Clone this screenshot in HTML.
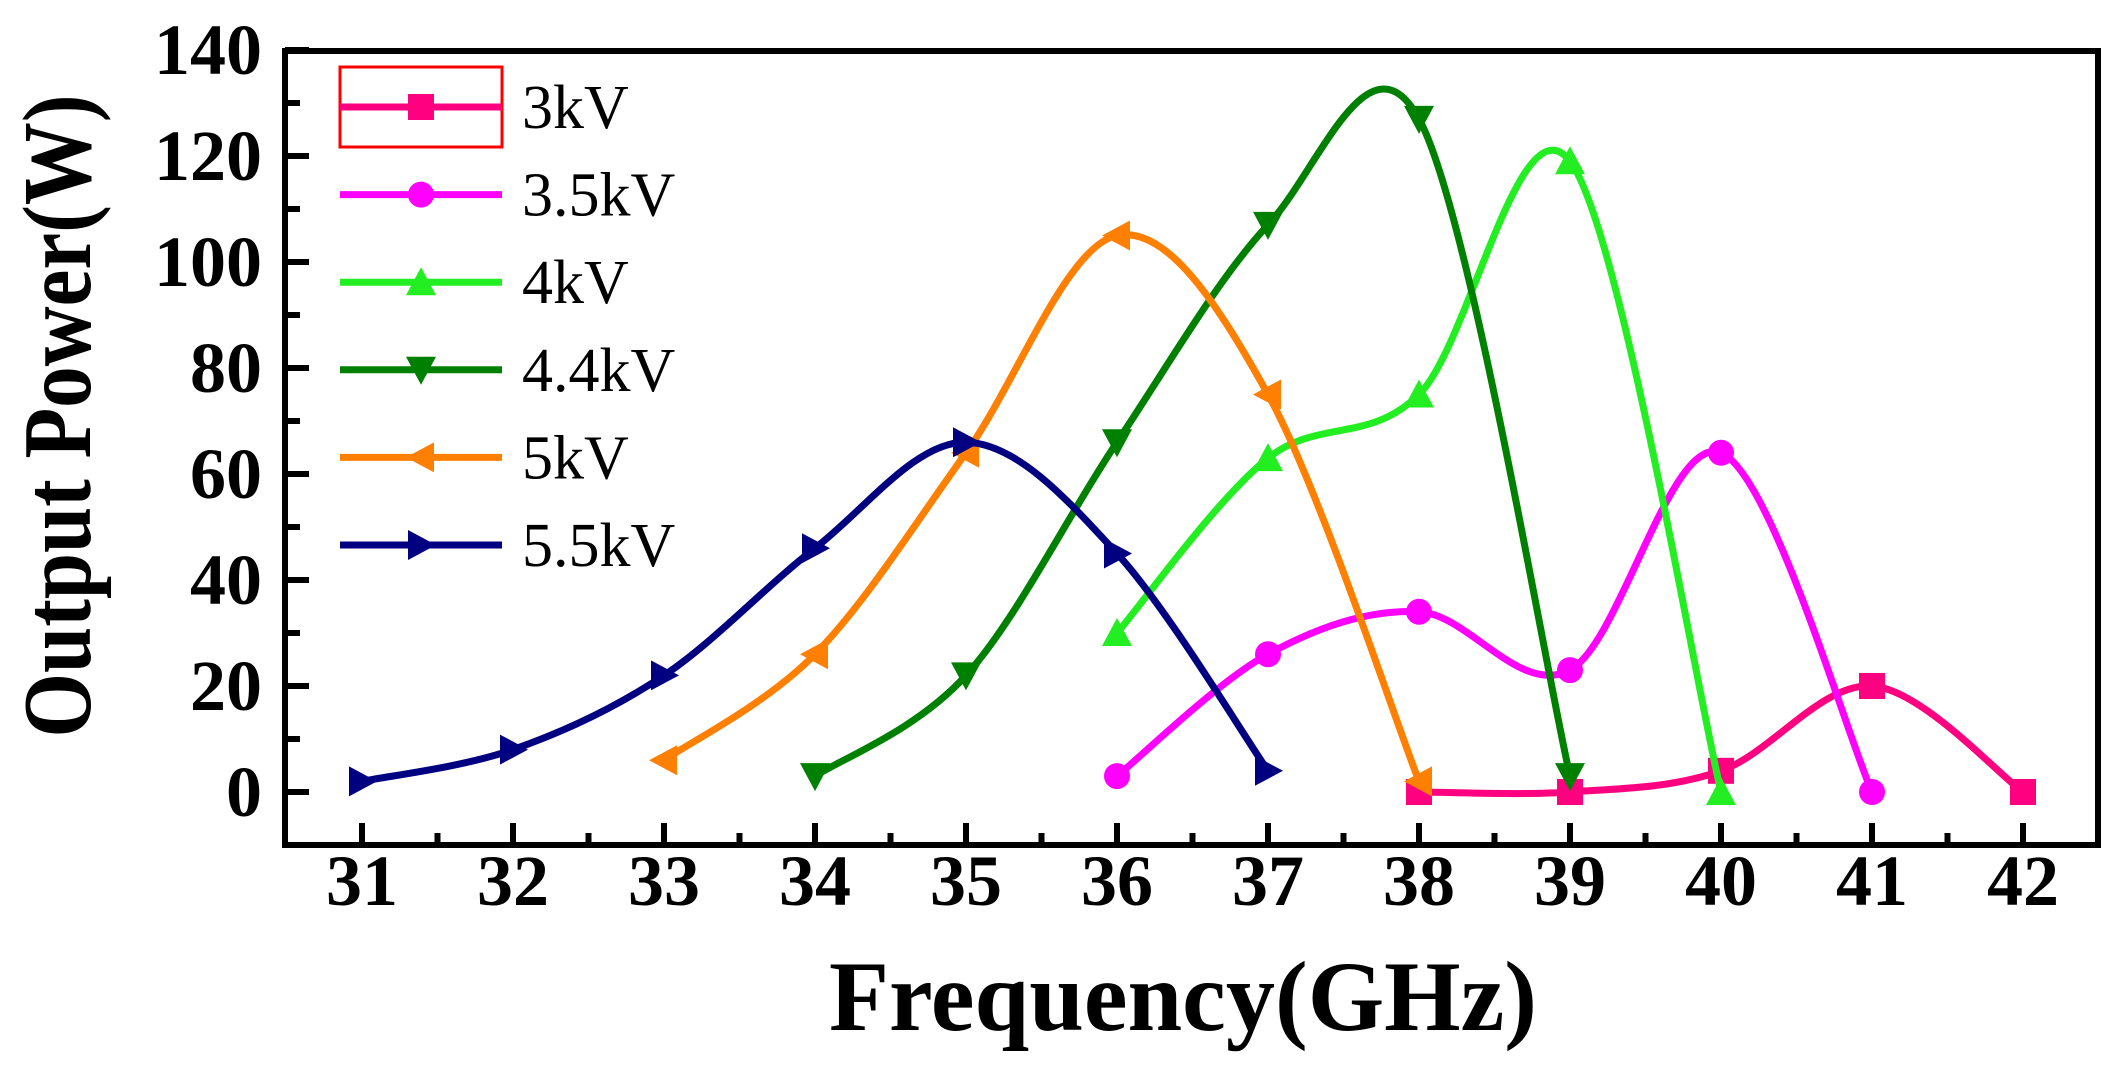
<!DOCTYPE html>
<html><head><meta charset="utf-8"><style>
html,body{margin:0;padding:0;background:#fff;}
svg{display:block;}
text{font-family:"Liberation Serif",serif;}
</style></head><body>
<svg id="s" width="2123" height="1084" xmlns="http://www.w3.org/2000/svg">
<rect width="2123" height="1084" fill="#fff"/>
<g id="plot"></g>
<rect x="285" y="51" width="1813" height="794" fill="none" stroke="#000" stroke-width="6"/>
<g id="ticks" stroke="#000" stroke-width="6"></g>
<g id="labels" font-weight="bold" font-size="72" fill="#000"></g>
<text x="1183" y="1030" text-anchor="middle" font-weight="bold" font-size="100" textLength="708" lengthAdjust="spacingAndGlyphs">Frequency(GHz)</text>
<text transform="translate(90,416) rotate(-90)" text-anchor="middle" font-weight="bold" font-size="98" textLength="643" lengthAdjust="spacingAndGlyphs">Output Power(W)</text>
<rect x="340" y="67" width="162" height="80" fill="none" stroke="#ff0000" stroke-width="3"/>
<g id="legend"></g>
</svg>
<script>
const NS="http://www.w3.org/2000/svg";
const X=f=>362+(f-31)*151, Y=p=>792-p*5.3;
function el(t,a,par){const e=document.createElementNS(NS,t);for(const k in a)e.setAttribute(k,a[k]);document.getElementById(par).appendChild(e);return e;}
for(let f=31;f<=42;f++){const x=X(f);el('line',{x1:x,y1:845,x2:x,y2:823},'ticks');
 const t=el('text',{x:x,y:905,'text-anchor':'middle'},'labels');t.textContent=f;}
for(let f=31.5;f<42;f+=1){const x=X(f);el('line',{x1:x,y1:845,x2:x,y2:833},'ticks');}
for(let p=0;p<=140;p+=20){const y=Y(p);el('line',{x1:285,y1:y,x2:309,y2:y},'ticks');
 const t=el('text',{x:262,y:y+24,'text-anchor':'end'},'labels');t.textContent=p;}
for(let p=-10;p<=130;p+=20){const y=Y(p);el('line',{x1:285,y1:y,x2:300,y2:y},'ticks');}
const series=[
 ['3kV','#ff0080','sq',[[38,0],[39,0],[40,4],[41,20],[42,0]]],
 ['3.5kV','#ff00ff','ci',[[36,3],[37,26],[38,34],[39,23],[40,64],[41,0]]],
 ['4kV','#22ee22','up',[[36,30],[37,63],[38,75],[39,119],[40,0]]],
 ['4.4kV','#008000','dn',[[34,3],[35,22],[36,66],[37,107],[38,127],[39,3]]],
 ['5kV','#ff8000','lt',[[33,6],[34,26],[35,64],[36,105],[37,75],[38,2]]],
 ['5.5kV','#000080','rt',[[31,2],[32,8],[33,22],[34,46],[35,66],[36,45],[37,4]]]
];
function marker(type,x,y,c,par){const r=13;let pts;
 if(type==='sq'){el('rect',{x:x-r,y:y-r,width:2*r,height:2*r,fill:c},par);return;}
 if(type==='ci'){el('circle',{cx:x,cy:y,r:r,fill:c},par);return;}
 if(type==='up')pts=[[x,y-r-2],[x+r+2,y+r],[x-r-2,y+r]];
 if(type==='dn')pts=[[x,y+r+2],[x+r+2,y-r],[x-r-2,y-r]];
 if(type==='lt')pts=[[x-r-2,y],[x+r,y-r-2],[x+r,y+r+2]];
 if(type==='rt')pts=[[x+r+2,y],[x-r,y-r-2],[x-r,y+r+2]];
 el('polygon',{points:pts.map(p=>p.join(',')).join(' '),fill:c},par);}
series.forEach((s,i)=>{
 const P=s[3].map(d=>[X(d[0]),Y(d[1])]);
 let d='M'+P[0].join(',');
 for(let k=0;k<P.length-1;k++){
  const p0=P[k-1]||P[k],p1=P[k],p2=P[k+1],p3=P[k+2]||P[k+1];
  const c1=[p1[0]+(p2[0]-p0[0])/6,p1[1]+(p2[1]-p0[1])/6];
  const c2=[p2[0]-(p3[0]-p1[0])/6,p2[1]-(p3[1]-p1[1])/6];
  d+=' C'+c1.join(',')+' '+c2.join(',')+' '+p2.join(',');}
 el('path',{d:d,fill:'none',stroke:s[1],'stroke-width':7},'plot');
 P.forEach(p=>marker(s[2],p[0],p[1],s[1],'plot'));
 const ly=107+87.6*i;
 el('line',{x1:340,y1:ly,x2:502,y2:ly,stroke:s[1],'stroke-width':7},'legend');
 marker(s[2],421,ly,s[1],'legend');
 const t=el('text',{x:522,y:ly+21,'font-size':62,fill:'#000'},'legend');t.textContent=s[0];
});
</script>
</body></html>
